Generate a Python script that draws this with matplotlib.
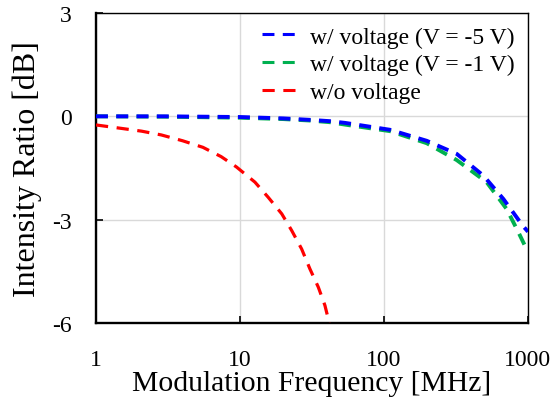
import matplotlib
matplotlib.use("Agg")
import matplotlib.pyplot as plt

plt.rcParams['font.family'] = ['Liberation Serif', 'DejaVu Serif']
plt.rcParams['lines.scale_dashes'] = False

# data
freq_5v = [1, 3, 10, 20, 30, 42, 53.6, 110, 198, 320, 490, 675, 918, 1000]
ratio_5v = [0, 0, -0.02, -0.06, -0.1, -0.14, -0.19, -0.39, -0.71, -1.09, -1.72, -2.4, -3.17, -3.35]

freq_1v = [1, 3, 10, 20, 30, 42, 53.6, 110, 198, 320, 516, 711, 857, 1000]
ratio_1v = [0, -0.01, -0.04, -0.08, -0.12, -0.17, -0.24, -0.43, -0.78, -1.27, -1.91, -2.69, -3.36, -3.94]

freq_off = [1, 1.5, 2.07, 2.84, 4.0, 5.53, 7.4, 9.45, 12.7, 15.7, 19.5, 22.9, 26.8, 30.6, 35, 38.9, 41.7]
ratio_off = [-0.25, -0.35, -0.43, -0.54, -0.71, -0.9, -1.17, -1.47, -1.91, -2.35, -2.83, -3.32, -3.85,
             -4.43, -4.96, -5.49, -6.0]

labels = ['w/ voltage (V = -5 V)', 'w/ voltage (V = -1 V)', 'w/o voltage']
xticks = [1, 10, 100, 1000]
yticks = [-6, -3, 0, 3]

fig = plt.figure(figsize=(5.58, 4.02), dpi=100)
ax = fig.add_axes([0.172, 0.194, 0.7742, 0.7712])

ax.plot(freq_5v, ratio_5v, color='#0000FF', lw=2.8, dashes=(8.6, 6.0), label=labels[0], zorder=4)
ax.plot(freq_1v, ratio_1v, color='#00B050', lw=2.8, dashes=(8.6, 6.0), label=labels[1], zorder=3)
ax.plot(freq_off, ratio_off, color='#FF0000', lw=2.3, dashes=(8.8, 6.2), label=labels[2], zorder=3)

ax.set_xscale('log')
ax.set_xlim(1, 1000)
ax.set_ylim(-6, 3)
ax.set_xticks(xticks)
ax.set_xticklabels([str(t) for t in xticks])
ax.minorticks_off()
ax.set_yticks(yticks)
ax.set_yticklabels([str(t) for t in yticks])
ax.tick_params(direction='in', length=5, width=1.2, labelsize=17, colors='black')
ax.tick_params(axis='x', pad=19)
ax.tick_params(axis='y', pad=17.5)

ax.grid(True, color='#d9d9d9', lw=1)
ax.set_axisbelow(True)

for side in ['left', 'bottom']:
    ax.spines[side].set_linewidth(1.7)
for side in ['top', 'right']:
    ax.spines[side].set_linewidth(1.0)

ax.set_xlabel('Modulation Frequency [MHz]', fontsize=21.3, labelpad=0)
ax.set_ylabel('Intensity Ratio [dB]', fontsize=23, labelpad=7)

leg = ax.legend(loc='upper right', frameon=False, fontsize=17, handlelength=1.4,
                handletextpad=0.64, labelspacing=0.26, borderaxespad=0.1, borderpad=0.45)
for line in leg.get_lines():
    line.set_linewidth(2.2)

fig.savefig('out.png', dpi=100)
